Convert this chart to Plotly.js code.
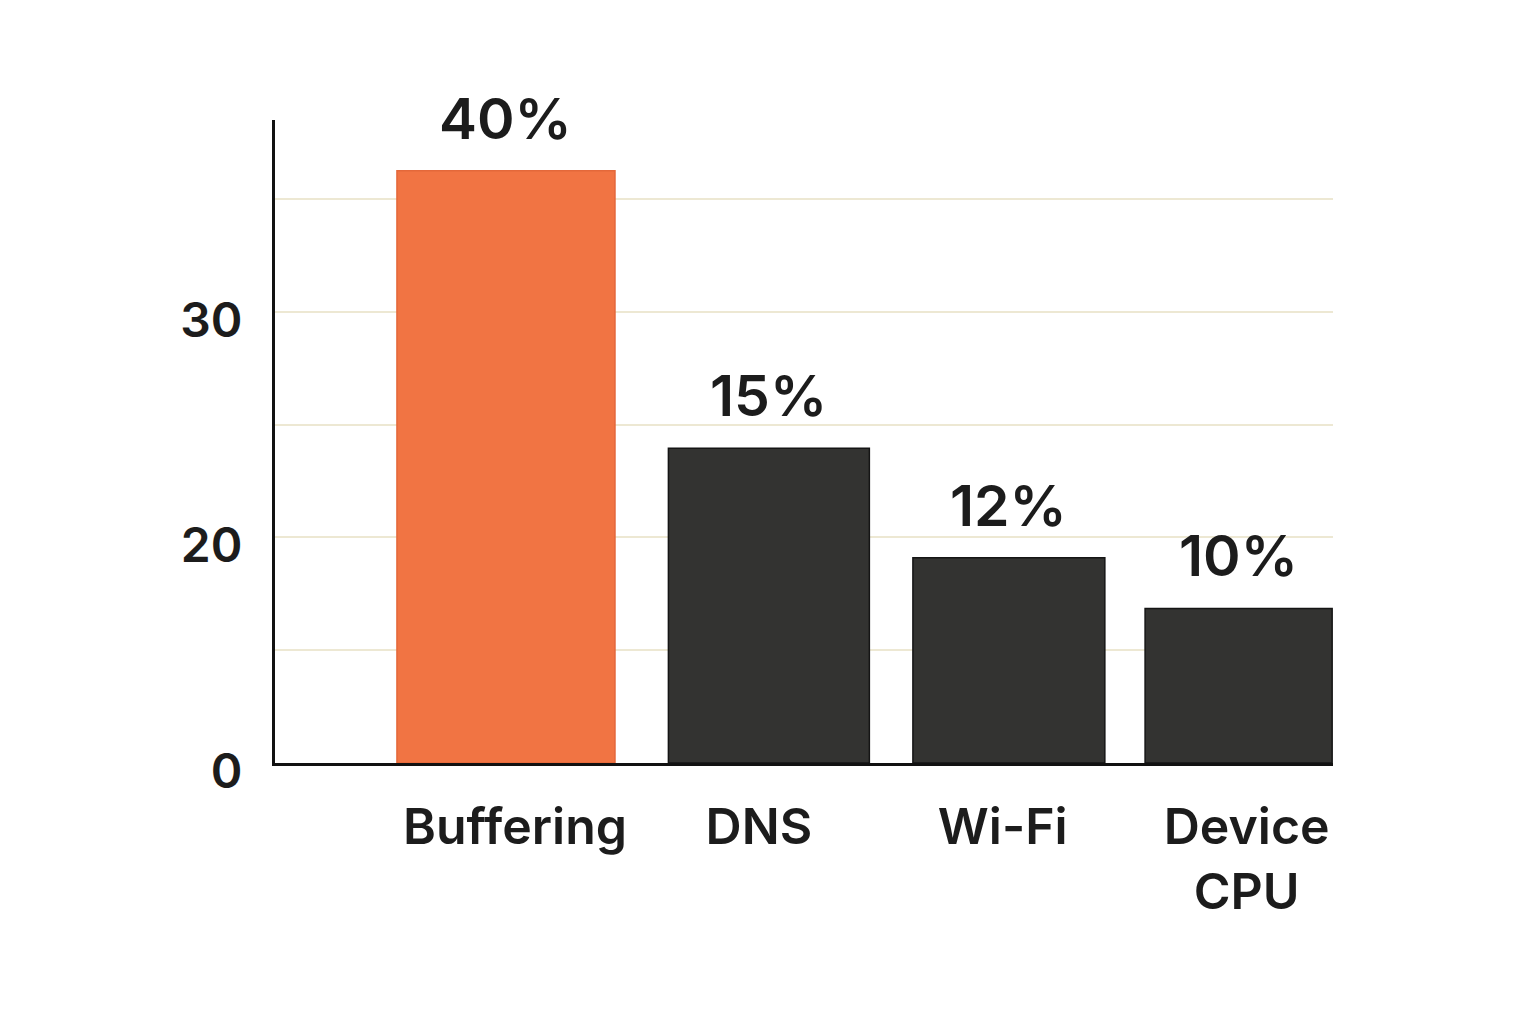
<!DOCTYPE html>
<html>
<head>
<meta charset="utf-8">
<script src="https://cdn.plot.ly/plotly-3.0.1.min.js"></script>
<style>html,body{margin:0;padding:0;background:#fff;}#chart{width:1536px;height:1024px;}</style>
</head>
<body>
<div id="chart"></div>
<script>
// Categories and bar heights (axis units: one gridline = 10)
const categories = ["Buffering", "DNS", "Wi-Fi", "Device<br>CPU"];
const barValues = [52.5, 27.9, 18.2, 13.7];
const barLabels = ["40%", "15%", "12%", "10%"];
const tickValues = [0, 20, 40];
const tickLabels = ["0", "20", "30"];

const barColors = ["#F17443", "#333331", "#333331", "#333331"];
const barLineColors = ["#E4683A", "#151515", "#151515", "#151515"];
const barWidths = [0.894, 0.824, 0.787, 0.767];
const barShifts = [-0.037, 0.041, 0.025, -0.033];

const FONT = "Inter, 'Liberation Sans', Arial, sans-serif";

const trace = {
  type: "bar",
  x: categories,
  y: barValues,
  width: barWidths,
  offset: barWidths.map((w, i) => barShifts[i] - w / 2),
  marker: { color: barColors, line: { color: barLineColors, width: 1.5 } },
  cliponaxis: false,
  hoverinfo: "skip"
};

const annotations = categories.map((c, i) => ({
  x: c, y: barValues[i], xref: "x", yref: "y",
  text: barLabels[i], showarrow: false,
  xanchor: "center", yanchor: "bottom", yshift: 16,
  xshift: barShifts[i] * 243.9,
  font: { family: FONT, size: 57, color: "#1c1c1c", weight: 600 }
}));

const layout = {
  width: 1536, height: 1024,
  margin: { l: 275, r: 203, t: 120, b: 261 },
  paper_bgcolor: "#ffffff", plot_bgcolor: "#ffffff",
  showlegend: false,
  bargap: 0,
  xaxis: {
    type: "category",
    range: [-0.984, 3.354],
    showline: true, linecolor: "#111111", linewidth: 3,
    showgrid: false, ticks: "",
    ticklabelstandoff: 18,
    tickfont: { family: FONT, size: 50, color: "#1c1c1c", weight: 600 }
  },
  yaxis: {
    range: [0, 57],
    tickmode: "array", tickvals: tickValues, ticktext: tickLabels,
    showline: true, linecolor: "#111111", linewidth: 3,
    zeroline: false,
    showgrid: true, gridcolor: "#EDE8D3", gridwidth: 2,
    minor: { dtick: 10, showgrid: true, gridcolor: "#EDE8D3", gridwidth: 2, ticks: "" },
    ticks: "",
    ticklabelstandoff: 20,
    ticklabelshift: 8,
    tickfont: { family: FONT, size: 48, color: "#1c1c1c", weight: 600 }
  },
  annotations: annotations
};

Plotly.newPlot("chart", [trace], layout, { displayModeBar: false, staticPlot: true });
</script>
</body>
</html>
